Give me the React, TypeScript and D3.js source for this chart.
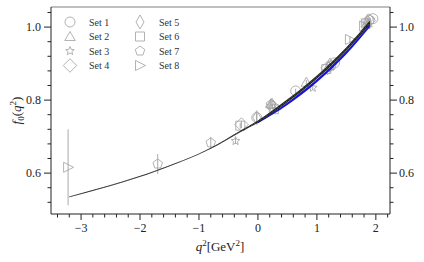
import React from "react";
import * as d3 from "d3";

// fit curve
const fitQ2 = [-3.2, -2.5, -1.7, -0.8, -0.3, 0, 0.5, 1.0, 1.5, 1.9];
const fitF = [0.535, 0.566, 0.608, 0.668, 0.714, 0.741, 0.798, 0.863, 0.94, 1.013];
const fitErr = [0.0012, 0.0012, 0.0012, 0.0015, 0.002, 0.003, 0.004, 0.0045, 0.005, 0.005];

// second fit (blue), only on the upper part
const fit2Q2 = [0.0, 0.5, 1.0, 1.5, 1.9];
const fit2F = [0.738, 0.79, 0.853, 0.93, 1.004];
const fit2Err = [0.0012, 0.0035, 0.004, 0.0045, 0.004];

const setNames = ["Set 1", "Set 2", "Set 3", "Set 4", "Set 5", "Set 6", "Set 7", "Set 8"];
const setMarkers = ["o", "^", "*", "D", "d", "s", "p", ">"];

const setQ2 = [
  [-0.02, 0.64, 1.3, 1.95],
  [0.22, 0.82, 1.2, 1.85],
  [-0.38, 0.93, 1.85],
  [-0.28, 0.25, 1.18, 1.88],
  [-0.02, 0.24, 1.22, 1.86],
  [-0.3, 0.27, 1.16, 1.83],
  [-1.7, -0.8, 0.22, 1.25, 1.9],
  [-3.22, 1.56, 1.8],
];
const setF = [
  [0.752, 0.825, 0.902, 1.023],
  [0.79, 0.849, 0.893, 1.012],
  [0.688, 0.834, 1.005],
  [0.733, 0.782, 0.888, 1.018],
  [0.752, 0.786, 0.896, 1.015],
  [0.73, 0.775, 0.885, 1.01],
  [0.625, 0.683, 0.788, 0.895, 1.02],
  [0.616, 0.966, 1.003],
];
const setErr = [
  [0.015, 0.006, 0.006, 0.006],
  [0.008, 0.006, 0.006, 0.006],
  [0.008, 0.006, 0.006],
  [0.01, 0.008, 0.006, 0.006],
  [0.012, 0.008, 0.006, 0.006],
  [0.008, 0.006, 0.006, 0.006],
  [0.027, 0.016, 0.008, 0.006, 0.006],
  [0.104, 0.008, 0.006],
];

const xMajor = [-3, -2, -1, 0, 1, 2];
const yMajor = [0.6, 0.8, 1.0];

const W = 424;
const H = 262;
const M = { left: 51, right: 390, top: 7, bottom: 214 };
const grey = "#a0a0a0";
const font = "'Liberation Serif', 'DejaVu Serif', serif";

function polygon(pts: [number, number][]) {
  return "M" + pts.map((p) => p.join(",")).join("L") + "Z";
}

function marker(kind: string, s: number) {
  // s ~ half-size in px
  if (kind === "o") {
    const p = d3.path();
    p.arc(0, 0, s, 0, Math.PI * 2);
    return p.toString();
  }
  if (kind === "^") return polygon([[0, -s], [s * 1.05, s * 0.8], [-s * 1.05, s * 0.8]]);
  if (kind === ">") return polygon([[s * 1.1, 0], [-s * 0.9, -s], [-s * 0.9, s]]);
  if (kind === "s") return polygon([[-s * 0.9, -s * 0.9], [s * 0.9, -s * 0.9], [s * 0.9, s * 0.9], [-s * 0.9, s * 0.9]]);
  if (kind === "D") return polygon([[0, -s * 1.35], [s * 1.35, 0], [0, s * 1.35], [-s * 1.35, 0]]);
  if (kind === "d") return polygon([[0, -s * 1.4], [s * 0.8, 0], [0, s * 1.4], [-s * 0.8, 0]]);
  if (kind === "p" || kind === "*") {
    const pts: [number, number][] = [];
    const n = kind === "p" ? 5 : 10;
    for (let i = 0; i < n; i++) {
      const a = -Math.PI / 2 + (i * 2 * Math.PI) / n;
      const r = kind === "p" ? s : i % 2 === 0 ? s * 0.9 : s * 0.4;
      pts.push([r * Math.cos(a), r * Math.sin(a)]);
    }
    return polygon(pts);
  }
  return "";
}

export default function App() {
  const x = d3.scaleLinear().domain([-3.51, 2.24]).range([M.left, M.right]);
  const y = d3.scaleLinear().domain([0.488, 1.055]).range([M.bottom, M.top]);

  const xMinor = d3.range(-3.4, 2.21, 0.2).map((v) => Math.round(v * 10) / 10);
  const yMinor = d3.range(0.52, 1.05, 0.04).map((v) => Math.round(v * 100) / 100);

  const band = d3
    .area<number>()
    .x((i) => x(fitQ2[i]))
    .y0((i) => y(fitF[i] - fitErr[i]))
    .y1((i) => y(fitF[i] + fitErr[i]))
    .curve(d3.curveMonotoneX);
  const band2 = d3
    .area<number>()
    .x((i) => x(fit2Q2[i]))
    .y0((i) => y(fit2F[i] - fit2Err[i]))
    .y1((i) => y(fit2F[i] + fit2Err[i]))
    .curve(d3.curveMonotoneX);
  const line = d3
    .line<number>()
    .x((i) => x(fitQ2[i]))
    .y((i) => y(fitF[i]))
    .curve(d3.curveMonotoneX);

  const fmt = (v: number) => (v < 0 ? "\u2212" + Math.abs(v) : String(v));

  return (
    <svg width={W} height={H} style={{ position: "absolute", left: 0, top: 0 }} fontFamily={font}>
      <rect width={W} height={H} fill="#fff" />

      {/* data points */}
      {setNames.map((name, si) => (
        <g key={name}>
          {setQ2[si].map((q, i) => (
            <g key={i}>
              <line
                x1={x(q)}
                x2={x(q)}
                y1={y(setF[si][i] - setErr[si][i])}
                y2={y(setF[si][i] + setErr[si][i])}
                stroke={grey}
                strokeWidth={0.9}
              />
              <path
                d={marker(setMarkers[si], 5)}
                transform={`translate(${x(q)},${y(setF[si][i])})`}
                fill="none"
                stroke={grey}
                strokeWidth={0.8}
              />
            </g>
          ))}
        </g>
      ))}

      {/* fits */}
      <path d={band2(d3.range(fit2Q2.length)) || ""} fill="#1515d8" />
      <path d={band(d3.range(fitQ2.length)) || ""} fill="#111" fillOpacity={0.92} />
      <path d={line(d3.range(fitQ2.length)) || ""} fill="none" stroke="#777" strokeWidth={0.5} strokeDasharray="2,1.5" />

      {/* legend */}
      {setNames.map((name, i) => {
        const col = Math.floor(i / 4);
        const row = i % 4;
        const mx = 70 + col * 70;
        const my = 22 + row * 14.5;
        return (
          <g key={name}>
            <path d={marker(setMarkers[i], 5)} transform={`translate(${mx},${my})`} fill="none" stroke={grey} strokeWidth={0.8} />
            <text x={mx + 19} y={my + 3.5} fontSize={10} fill="#333">
              {name}
            </text>
          </g>
        );
      })}

      {/* spines */}
      <line x1={M.left} x2={M.right} y1={M.top} y2={M.top} stroke="#aaa" strokeWidth={1.5} />
      <line x1={M.left} x2={M.left} y1={M.top} y2={M.bottom} stroke="#222" strokeWidth={1} />
      <line x1={M.right} x2={M.right} y1={M.top} y2={M.bottom} stroke="#222" strokeWidth={1} />
      <line x1={M.left} x2={M.right} y1={M.bottom} y2={M.bottom} stroke="#222" strokeWidth={1} />

      {/* x ticks */}
      {xMinor.map((v) => (
        <line key={"xm" + v} x1={x(v)} x2={x(v)} y1={M.bottom} y2={M.bottom + (xMajor.includes(v) ? 6 : 3.5)} stroke="#222" strokeWidth={1} />
      ))}
      {xMajor.map((v) => (
        <text key={"xl" + v} x={x(v)} y={M.bottom + 18} fontSize={12} textAnchor="middle" fill="#222">
          {fmt(v)}
        </text>
      ))}

      {/* y ticks, both sides */}
      {yMinor.map((v) => {
        const major = yMajor.some((m) => Math.abs(m - v) < 1e-6);
        const len = major ? 7 : 3.5;
        return (
          <g key={"ym" + v}>
            <line x1={M.left - len} x2={M.left} y1={y(v)} y2={y(v)} stroke="#222" strokeWidth={1} />
            <line x1={M.right} x2={M.right + len} y1={y(v)} y2={y(v)} stroke="#222" strokeWidth={1} />
          </g>
        );
      })}
      {yMajor.map((v) => (
        <g key={"yl" + v}>
          <text x={M.left - 10} y={y(v) + 4} fontSize={12} textAnchor="end" fill="#222">
            {v.toFixed(1)}
          </text>
          <text x={M.right + 9} y={y(v) + 4} fontSize={12} textAnchor="start" fill="#222">
            {v.toFixed(1)}
          </text>
        </g>
      ))}

      {/* axis labels */}
      <text x={220} y={251} fontSize={13} textAnchor="middle" fill="#222">
        <tspan fontStyle="italic">q</tspan>
        <tspan dy={-5} fontSize={9}>2</tspan>
        <tspan dy={5}>[GeV</tspan>
        <tspan dy={-5} fontSize={9}>2</tspan>
        <tspan dy={5}>]</tspan>
      </text>
      <text transform={`translate(21,${(M.top + M.bottom) / 2}) rotate(-90)`} fontSize={13} textAnchor="middle" fill="#222">
        <tspan fontStyle="italic">f</tspan>
        <tspan dy={3} fontSize={9}>0</tspan>
        <tspan dy={-3}>(</tspan>
        <tspan fontStyle="italic">q</tspan>
        <tspan dy={-5} fontSize={9}>2</tspan>
        <tspan dy={5}>)</tspan>
      </text>
    </svg>
  );
}
